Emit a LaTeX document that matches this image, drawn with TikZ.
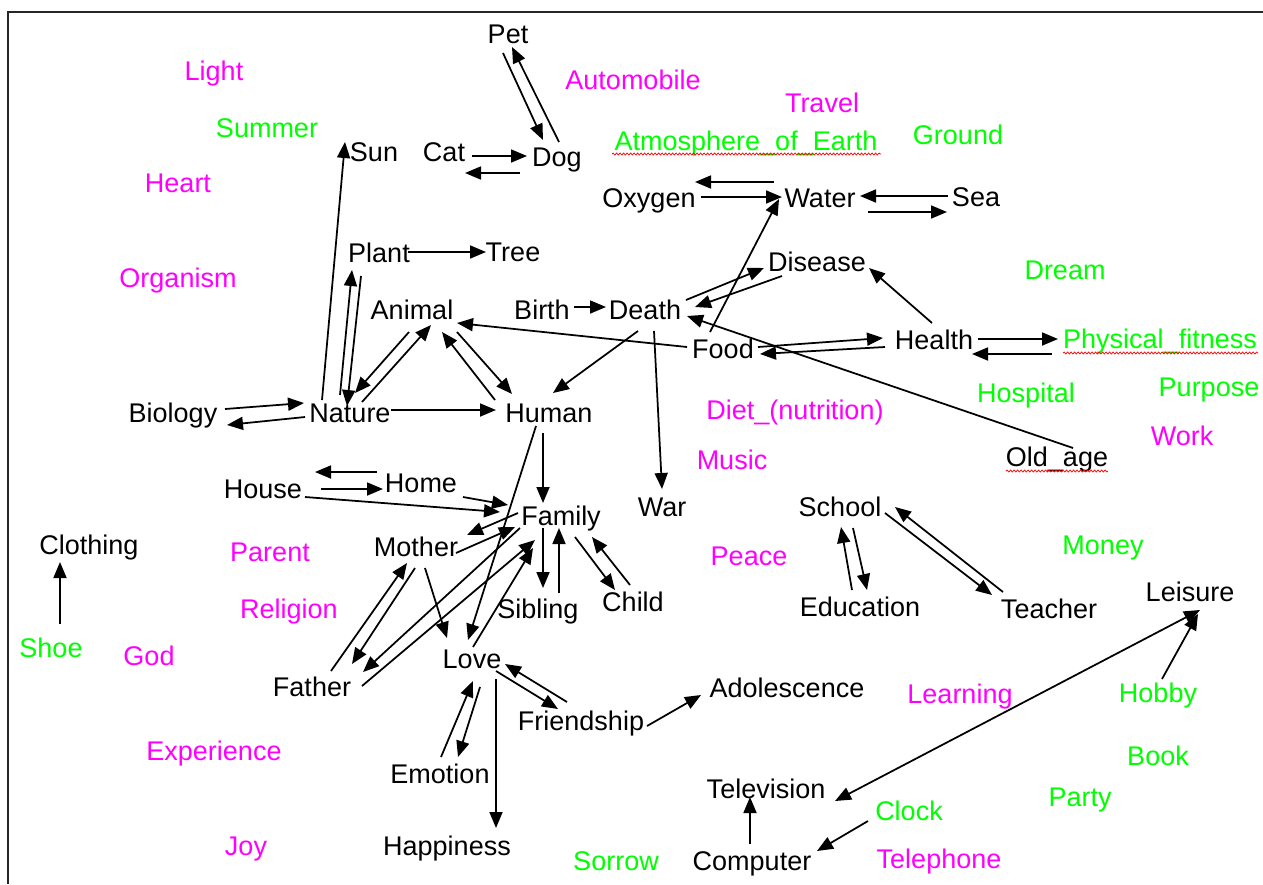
\documentclass[tikz,border=0pt]{standalone}
\usepackage{fontspec}
\newfontfamily\wordfont{Liberation Sans}
\usetikzlibrary{arrows.meta,decorations.pathmorphing}
\definecolor{mag}{RGB}{255,0,255}
\definecolor{grn}{RGB}{0,255,0}
% connector: from node #1 (offset #2 from its base) to node #3 (offset #4 from its base)
\newcommand\wire[4]{\draw[arr] ([shift={(#2)}]#1.base) -- ([shift={(#4)}]#3.base);}
\begin{document}
\begin{tikzpicture}[x=1pt,y=-1pt,
  word/.style={font={\wordfont\fontsize{27}{32}\selectfont}, inner sep=1pt, anchor=base},
  mword/.style={word, text=mag},
  gword/.style={word, text=grn},
  arr/.style={-{Triangle[length=16pt,width=13pt]}, line width=1.75pt},
  dblarr/.style={{Triangle[length=16pt,width=13pt]}-{Triangle[length=16pt,width=13pt]}, line width=1.75pt},
  frame/.style={line width=1.3pt, draw=black!85},
  squig/.style={draw=red, line width=0.7pt, decorate, decoration={snake, amplitude=1pt, segment length=3.5pt}}]
\useasboundingbox (0,0) rectangle (1263,884);
\fill[white] (0,0) rectangle (1263,884);
\draw[frame] (8,884) -- (8,12) -- (1263,12);

% ---- concepts without links (coloured) ----
\node[mword] (light) at (214,80) {Light};
\node[gword] (summer) at (267,137) {Summer};
\node[mword] (heart) at (178,192) {Heart};
\node[mword] (organism) at (178,287) {Organism};
\node[mword] (automobile) at (633,89) {Automobile};
\node[mword] (travel) at (822,112) {Travel};
\node[gword] (atmo) at (746,150) {Atmosphere\_of\_Earth};
\node[gword] (ground) at (958,144) {Ground};
\node[gword] (dream) at (1065,279) {Dream};
\node[gword] (fitness) at (1160,348) {Physical\_fitness};
\node[gword] (hospital) at (1026,402) {Hospital};
\node[gword] (purpose) at (1209,396) {Purpose};
\node[mword] (work) at (1182,445) {Work};
\node[mword] (diet) at (795,419) {Diet\_(nutrition)};
\node[mword] (music) at (732,469) {Music};
\node[mword] (peace) at (749,565) {Peace};
\node[gword] (money) at (1103,554) {Money};
\node[mword] (learning) at (960,703) {Learning};
\node[gword] (hobby) at (1158,702) {Hobby};
\node[gword] (book) at (1158,765) {Book};
\node[gword] (party) at (1080,806) {Party};
\node[gword] (clock) at (909,820) {Clock};
\node[mword] (telephone) at (939,868) {Telephone};
\node[gword] (sorrow) at (616,870) {Sorrow};
\node[mword] (joy) at (246,855) {Joy};
\node[mword] (experience) at (214,760) {Experience};
\node[mword] (god) at (149,665) {God};
\node[gword] (shoe) at (51,657) {Shoe};
\node[mword] (religion) at (289,618) {Religion};
\node[mword] (parent) at (270,561) {Parent};

% ---- linked concepts ----
\node[word] (pet) at (508,43) {Pet};
\node[word] (cat) at (444,161) {Cat};
\node[word] (dog) at (557,166) {Dog};
\node[word] (sun) at (374,161) {Sun};
\node[word] (oxygen) at (649,207) {Oxygen};
\node[word] (water) at (820,207) {Water};
\node[word] (sea) at (976,206) {Sea};
\node[word] (plant) at (379,262) {Plant};
\node[word] (tree) at (513,261) {Tree};
\node[word] (animal) at (412,319) {Animal};
\node[word] (birth) at (542,319) {Birth};
\node[word] (death) at (645,319) {Death};
\node[word] (disease) at (817,271) {Disease};
\node[word] (food) at (723,358) {Food};
\node[word] (health) at (934,349) {Health};
\node[word] (biology) at (173,422) {Biology};
\node[word] (nature) at (350,422) {Nature};
\node[word] (human) at (549,422) {Human};
\node[word] (oldage) at (1057,466) {Old\_age};
\node[word] (house) at (263,498) {House};
\node[word] (home) at (421,492) {Home};
\node[word] (family) at (561,525) {Family};
\node[word] (war) at (662,516) {War};
\node[word] (mother) at (416,556) {Mother};
\node[word] (clothing) at (89,554) {Clothing};
\node[word] (sibling) at (538,618) {Sibling};
\node[word] (child) at (633,611) {Child};
\node[word] (father) at (312,696) {Father};
\node[word] (love) at (472,668) {Love};
\node[word] (friendship) at (581,730) {Friendship};
\node[word] (adolescence) at (787,697) {Adolescence};
\node[word] (emotion) at (440,783) {Emotion};
\node[word] (happiness) at (447,855) {Happiness};
\node[word] (television) at (766,798) {Television};
\node[word] (computer) at (752,870) {Computer};
\node[word] (leisure) at (1190,601) {Leisure};
\node[word] (school) at (840,516) {School};
\node[word] (education) at (860,616) {Education};
\node[word] (teacher) at (1049,618) {Teacher};

% ---- spell-check underlines ----
\draw[squig] ([shift={(-134,4)}]atmo.base) -- ([shift={(135,4)}]atmo.base);
\draw[squig] ([shift={(-97,5)}]fitness.base) -- ([shift={(98,5)}]fitness.base);
\draw[squig] ([shift={(-51,5)}]oldage.base) -- ([shift={(51,5)}]oldage.base);

% ---- links ----
\wire{nature}{-28,-22}{sun}{-29,-19}
\wire{nature}{-10,-27}{plant}{-27,8}
\wire{plant}{-18,14}{nature}{-3,-16}
\wire{plant}{29,-10}{tree}{-27,-9}
\wire{animal}{-3,13}{nature}{5,-29}
\wire{nature}{12,-20}{animal}{19,6}
\wire{human}{-54,-22}{animal}{30,13}
\wire{animal}{45,13}{human}{-37,-28}
\wire{nature}{41,-12}{human}{-53,-12}
\wire{biology}{52,-13}{nature}{-46,-19}
\wire{nature}{-45,-5}{biology}{54,3}
\wire{cat}{28,-5}{dog}{-30,-10}
\wire{dog}{-37,7}{cat}{21,12}
\wire{pet}{-5,10}{dog}{-14,-26}
\wire{dog}{2,-24}{pet}{4,4}
\wire{water}{-46,-25}{oxygen}{46,-25}
\wire{oxygen}{52,-10}{water}{-38,-10}
\wire{sea}{-28,-10}{water}{40,-11}
\wire{water}{48,5}{sea}{-29,6}
\wire{food}{-13,-26}{water}{-41,-8}
\wire{death}{41,-19}{disease}{-53,-3}
\wire{disease}{-35,5}{death}{50,-12}
\wire{health}{-2,-26}{disease}{52,-3}
\wire{food}{35,-11}{health}{-51,-11}
\wire{health}{-49,-2}{food}{37,-4}
\wire{health}{44,-10}{fitness}{-102,-9}
\wire{fitness}{-108,6}{health}{38,5}
\wire{oldage}{16,-18}{death}{42,-3}
\wire{food}{-36,-11}{animal}{45,4}
\wire{birth}{32,-12}{death}{-39,-12}
\wire{death}{-7,12}{human}{4,-29}
\wire{death}{9,12}{war}{0,-27}
\wire{human}{-6,11}{family}{-18,-22}
\wire{human}{-13,4}{love}{-4,-28}
\wire{home}{-44,-20}{house}{52,-26}
\wire{house}{58,-9}{home}{-38,-3}
\wire{home}{42,5}{family}{-53,-20}
\wire{house}{42,-1}{family}{-61,-13}
\wire{family}{-43,-12}{mother}{51,-21}
\wire{mother}{40,-3}{family}{-46,2}
\wire{family}{-41,3}{father}{51,-24}
\wire{father}{50,-10}{family}{-26,15}
\wire{love}{1,-21}{family}{-28,23}
\wire{father}{19,-25}{mother}{-9,7}
\wire{mother}{-1,12}{father}{40,-32}
\wire{mother}{9,12}{love}{-25,-30}
\wire{family}{-18,3}{sibling}{5,-30}
\wire{sibling}{21,-25}{family}{-2,3}
\wire{family}{14,12}{child}{-18,-21}
\wire{child}{-3,-26}{family}{31,12}
\wire{friendship}{-14,-28}{love}{33,-4}
\wire{love}{24,3}{friendship}{-23,-21}
\wire{friendship}{66,-4}{adolescence}{-86,-2}
\wire{emotion}{1,-26}{love}{1,13}
\wire{love}{8,19}{emotion}{18,-26}
\wire{love}{24,11}{happiness}{49,-27}
\wire{computer}{-2,-26}{television}{-16,-1}
\draw[dblarr] ([shift={(69,3)}]television.base) -- ([shift={(10,9)}]leisure.base);
\wire{hobby}{4,-23}{leisure}{8,13}
\wire{clock}{-41,1}{computer}{65,-19}
\wire{school}{13,12}{education}{7,-26}
\wire{education}{-8,-26}{school}{1,11}
\wire{school}{45,-3}{teacher}{-57,-23}
\wire{teacher}{-46,-26}{school}{55,-9}
\wire{shoe}{9,-33}{clothing}{-29,8}
\end{tikzpicture}
\end{document}
